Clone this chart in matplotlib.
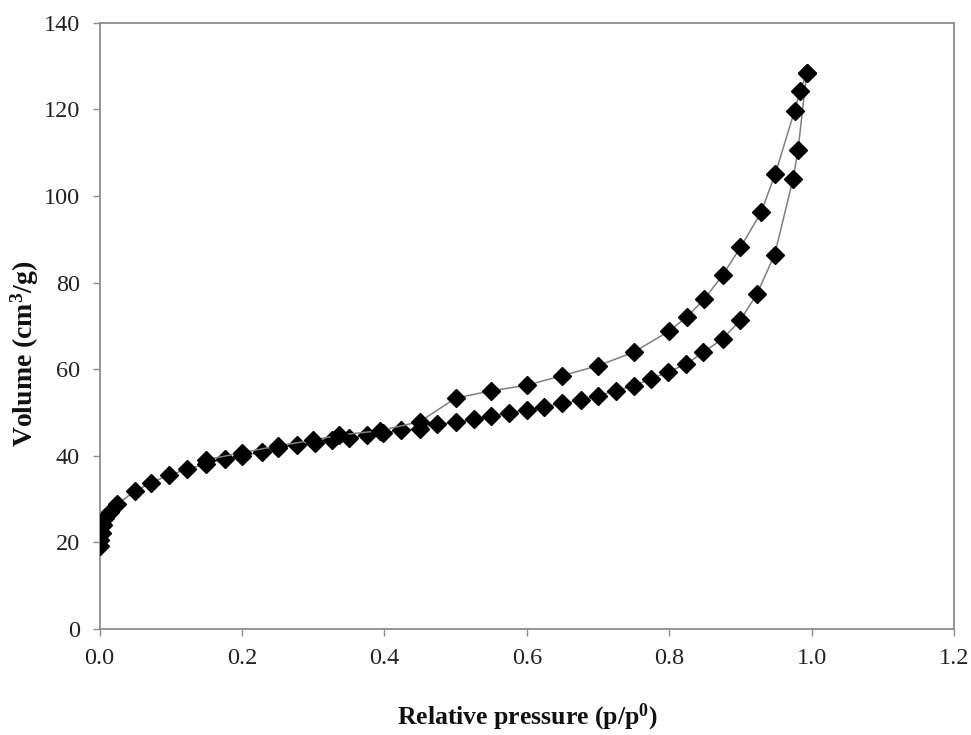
import matplotlib
matplotlib.use("Agg")
import matplotlib.pyplot as plt

# Adsorption branch
ads_p = [0.0, 0.001, 0.003, 0.005, 0.008, 0.015, 0.024, 0.05, 0.072, 0.097, 0.123,
         0.15, 0.176, 0.2, 0.228, 0.251, 0.277, 0.302, 0.326, 0.351, 0.375, 0.398,
         0.424, 0.45, 0.474, 0.5, 0.526, 0.55, 0.575, 0.6, 0.624, 0.65, 0.676, 0.70,
         0.725, 0.75, 0.774, 0.799, 0.824, 0.848, 0.875, 0.90, 0.923, 0.948, 0.974,
         0.981, 0.993]
ads_v = [19.2, 20.5, 22.1, 24.0, 25.6, 27.1, 28.8, 31.8, 33.8, 35.5, 36.9,
         38.1, 39.3, 39.9, 40.9, 41.7, 42.5, 42.9, 43.6, 44.0, 44.9, 45.3,
         45.9, 46.3, 47.3, 47.7, 48.4, 49.2, 49.9, 50.6, 51.3, 52.1, 52.9, 53.9,
         55.0, 56.2, 57.7, 59.4, 61.2, 63.9, 67.0, 71.3, 77.3, 86.4, 103.9,
         110.6, 128.3]

# Desorption branch
des_p = [0.993, 0.984, 0.976, 0.949, 0.929, 0.90, 0.875, 0.849, 0.825, 0.80,
         0.75, 0.70, 0.65, 0.60, 0.55, 0.50, 0.45, 0.394, 0.337, 0.30, 0.25,
         0.20, 0.15]
des_v = [128.3, 124.3, 119.6, 105.1, 96.2, 88.1, 81.7, 76.1, 72.1, 68.8,
         63.9, 60.8, 58.5, 56.3, 55.0, 53.3, 47.9, 45.8, 44.8, 43.6, 42.3,
         40.7, 39.1]

x_ticks = [0.0, 0.2, 0.4, 0.6, 0.8, 1.0, 1.2]
x_tick_labels = ["0.0", "0.2", "0.4", "0.6", "0.8", "1.0", "1.2"]
y_ticks = [0, 20, 40, 60, 80, 100, 120, 140]

plt.rcParams['font.family'] = ['Liberation Serif', 'DejaVu Serif']
plt.rcParams['mathtext.fontset'] = 'custom'
plt.rcParams['mathtext.rm'] = 'Liberation Serif'
plt.rcParams['mathtext.bf'] = 'Liberation Serif:bold'
plt.rcParams['mathtext.it'] = 'Liberation Serif:italic'

fig = plt.figure(figsize=(9.71, 7.35), dpi=100)
ax = fig.add_axes([0.1025, 0.1442, 0.8800, 0.8249])

line_kw = dict(color='#7f7f7f', lw=1.1, marker='D', ms=9,
               markerfacecolor='black', markeredgecolor='black', zorder=3)
ax.plot(ads_p, ads_v, **line_kw)
ax.plot(des_p, des_v, **line_kw)

ax.set_xlim(0, 1.2)
ax.set_ylim(0, 140)
ax.set_xticks(x_ticks)
ax.set_xticklabels(x_tick_labels)
ax.set_yticks(y_ticks)

for s in ax.spines.values():
    s.set_color('#8c8c8c')
    s.set_linewidth(1.3)
ax.tick_params(direction='out', length=5, width=1.0, color='#8c8c8c',
               labelsize=17.5, labelcolor='#222222')
ax.tick_params(axis='x', pad=9)
ax.tick_params(axis='y', pad=9)

fig.text(0.5437, 0.014, "Relative pressure (p/p$^{\\mathbf{0}}$)", ha='center',
         va='baseline', fontsize=18.5, fontweight='bold', color='#111111')
fig.text(0.025, 0.518, "Volume (cm$^{\\mathbf{3}}$/g)", ha='center', va='center',
         rotation=90, fontsize=20, fontweight='bold', color='#111111')

fig.savefig("out.png", dpi=100)
